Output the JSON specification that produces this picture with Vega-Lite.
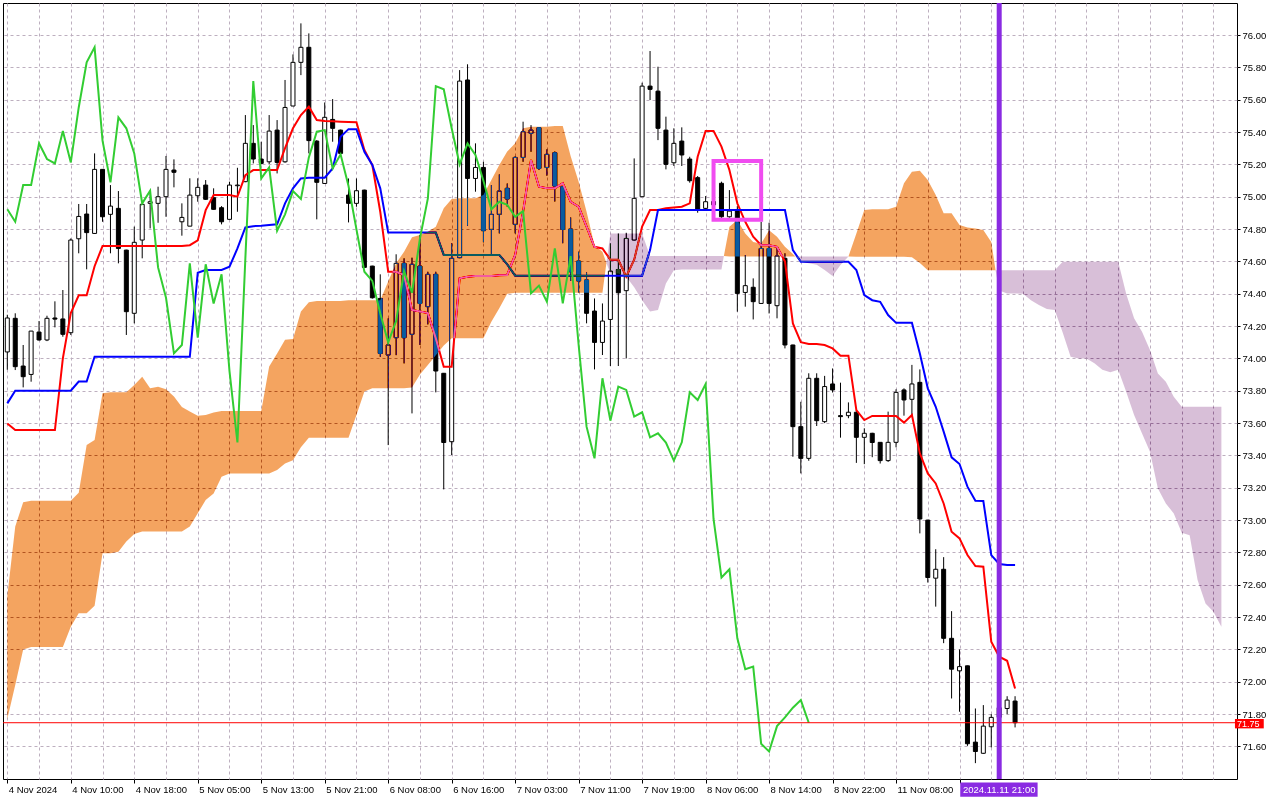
{
"$schema": "https://vega.github.io/schema/vega-lite/v6.json",
"width": 1234, "height": 776,
"autosize": {"type": "none"},
"padding": {"left": 3, "top": 3, "right": 43, "bottom": 21},
"background": "white",
"config": {
  "font": "Liberation Sans",
  "view": {"stroke": "black", "strokeWidth": 1},
  "axis": {"labelFont": "Liberation Sans", "labelFontSize": 9.5, "labelColor": "black", "tickColor": "black", "domain": false, "gridColor": "#BDAFBF", "gridDash": [3,3], "gridWidth": 1}
},
"resolve": {"axis": {"x": "independent", "y": "independent"}},
"datasets": {
"bars": [
{"i":0,"o":74.04,"h":74.27,"l":73.93,"c":74.25,"tk":73.598,"kj":73.722,"ch":74.922},
{"i":1,"o":74.248,"h":74.279,"l":73.928,"c":73.949,"tk":73.557,"kj":73.80,"ch":74.845},
{"i":2,"o":73.953,"h":74.083,"l":73.821,"c":73.887,"tk":73.557,"kj":73.80,"ch":75.072},
{"i":3,"o":73.901,"h":74.17,"l":73.856,"c":74.169,"tk":73.557,"kj":73.80,"ch":75.072},
{"i":4,"o":74.163,"h":74.231,"l":74.11,"c":74.114,"tk":73.557,"kj":73.80,"ch":75.33},
{"i":5,"o":74.114,"h":74.264,"l":74.107,"c":74.248,"tk":73.557,"kj":73.80,"ch":75.233},
{"i":6,"o":74.25,"h":74.353,"l":74.192,"c":74.243,"tk":73.557,"kj":73.80,"ch":75.206},
{"i":7,"o":74.244,"h":74.423,"l":74.134,"c":74.149,"tk":74.0,"kj":73.80,"ch":75.406},
{"i":8,"o":74.159,"h":74.742,"l":74.145,"c":74.732,"tk":74.28,"kj":73.80,"ch":75.212},
{"i":9,"o":74.74,"h":74.955,"l":74.65,"c":74.878,"tk":74.39,"kj":73.857,"ch":75.552},
{"i":10,"o":74.893,"h":74.955,"l":74.551,"c":74.778,"tk":74.39,"kj":73.857,"ch":75.831},
{"i":11,"o":74.773,"h":75.268,"l":74.77,"c":75.169,"tk":74.57,"kj":74.01,"ch":75.924},
{"i":12,"o":75.169,"h":75.17,"l":74.845,"c":74.876,"tk":74.695,"kj":74.01,"ch":75.347},
{"i":13,"o":74.891,"h":75.072,"l":74.65,"c":74.942,"tk":74.695,"kj":74.01,"ch":75.089},
{"i":14,"o":74.928,"h":75.035,"l":74.588,"c":74.68,"tk":74.695,"kj":74.01,"ch":75.491},
{"i":15,"o":74.67,"h":74.672,"l":74.145,"c":74.289,"tk":74.695,"kj":74.01,"ch":75.423},
{"i":16,"o":74.279,"h":74.815,"l":74.217,"c":74.718,"tk":74.695,"kj":74.01,"ch":75.268},
{"i":17,"o":74.732,"h":74.955,"l":74.619,"c":74.953,"tk":74.695,"kj":74.01,"ch":74.959},
{"i":18,"o":74.959,"h":75.037,"l":74.804,"c":74.969,"tk":74.695,"kj":74.01,"ch":75.037},
{"i":19,"o":74.959,"h":75.062,"l":74.839,"c":75.0,"tk":74.695,"kj":74.01,"ch":74.563},
{"i":20,"o":75.0,"h":75.252,"l":74.876,"c":75.169,"tk":74.695,"kj":74.01,"ch":74.375},
{"i":21,"o":75.165,"h":75.231,"l":75.058,"c":75.151,"tk":74.695,"kj":74.01,"ch":74.031},
{"i":22,"o":74.845,"h":74.959,"l":74.759,"c":74.872,"tk":74.695,"kj":74.01,"ch":74.083},
{"i":23,"o":74.818,"h":75.114,"l":74.818,"c":75.01,"tk":74.70,"kj":74.01,"ch":74.588},
{"i":24,"o":75.006,"h":75.114,"l":74.969,"c":75.058,"tk":74.73,"kj":74.53,"ch":74.128},
{"i":25,"o":75.072,"h":75.103,"l":74.98,"c":74.984,"tk":74.917,"kj":74.547,"ch":74.582},
{"i":26,"o":74.994,"h":75.052,"l":74.92,"c":74.922,"tk":75.01,"kj":74.547,"ch":74.34},
{"i":27,"o":74.932,"h":74.942,"l":74.829,"c":74.845,"tk":75.01,"kj":74.547,"ch":74.52},
{"i":28,"o":74.86,"h":75.093,"l":74.86,"c":75.072,"tk":75.01,"kj":74.567,"ch":73.922},
{"i":29,"o":75.068,"h":75.179,"l":74.907,"c":75.072,"tk":75.0,"kj":74.68,"ch":73.48},
{"i":30,"o":75.093,"h":75.505,"l":75.09,"c":75.33,"tk":75.134,"kj":74.81,"ch":74.619},
{"i":31,"o":75.33,"h":75.443,"l":75.206,"c":75.233,"tk":75.165,"kj":74.818,"ch":75.715},
{"i":32,"o":75.233,"h":75.34,"l":75.20,"c":75.206,"tk":75.165,"kj":74.82,"ch":75.113},
{"i":33,"o":75.216,"h":75.505,"l":75.202,"c":75.406,"tk":75.165,"kj":74.825,"ch":75.181},
{"i":34,"o":75.412,"h":75.474,"l":75.144,"c":75.212,"tk":75.165,"kj":74.829,"ch":74.79},
{"i":35,"o":75.216,"h":75.722,"l":75.21,"c":75.552,"tk":75.30,"kj":74.959,"ch":74.891},
{"i":36,"o":75.561,"h":75.88,"l":75.56,"c":75.831,"tk":75.423,"kj":75.052,"ch":75.035},
{"i":37,"o":75.831,"h":76.072,"l":75.752,"c":75.924,"tk":75.505,"kj":75.113,"ch":74.986},
{"i":38,"o":75.924,"h":76.01,"l":75.268,"c":75.347,"tk":75.557,"kj":75.118,"ch":75.243},
{"i":39,"o":75.344,"h":75.35,"l":74.86,"c":75.089,"tk":75.474,"kj":75.118,"ch":75.402},
{"i":40,"o":75.082,"h":75.583,"l":75.08,"c":75.491,"tk":75.468,"kj":75.118,"ch":75.412},
{"i":41,"o":75.478,"h":75.604,"l":75.34,"c":75.423,"tk":75.466,"kj":75.175,"ch":75.175},
{"i":42,"o":75.412,"h":75.415,"l":75.26,"c":75.268,"tk":75.464,"kj":75.371,"ch":75.262},
{"i":43,"o":75.01,"h":75.113,"l":74.841,"c":74.959,"tk":75.462,"kj":75.418,"ch":75.066},
{"i":44,"o":74.959,"h":75.113,"l":74.938,"c":75.037,"tk":75.46,"kj":75.418,"ch":74.798},
{"i":45,"o":75.041,"h":75.043,"l":74.56,"c":74.563,"tk":75.289,"kj":75.278,"ch":74.536},
{"i":46,"o":74.571,"h":74.573,"l":74.37,"c":74.375,"tk":75.196,"kj":75.196,"ch":74.479},
{"i":47,"o":74.371,"h":74.52,"l":74.01,"c":74.031,"tk":74.907,"kj":75.052,"ch":74.279},
{"i":48,"o":74.021,"h":74.248,"l":73.464,"c":74.083,"tk":74.536,"kj":74.778,"ch":74.099},
{"i":49,"o":74.128,"h":74.644,"l":74.02,"c":74.588,"tk":74.536,"kj":74.778,"ch":74.231},
{"i":50,"o":74.588,"h":74.619,"l":73.969,"c":74.128,"tk":74.516,"kj":74.778,"ch":74.54},
{"i":51,"o":74.149,"h":74.623,"l":73.66,"c":74.582,"tk":74.30,"kj":74.778,"ch":74.406},
{"i":52,"o":74.571,"h":74.763,"l":74.083,"c":74.34,"tk":74.29,"kj":74.778,"ch":74.742},
{"i":53,"o":74.32,"h":74.536,"l":74.21,"c":74.52,"tk":74.28,"kj":74.778,"ch":74.99},
{"i":54,"o":74.52,"h":74.536,"l":73.79,"c":73.922,"tk":74.124,"kj":74.778,"ch":75.684},
{"i":55,"o":73.908,"h":73.91,"l":73.19,"c":73.48,"tk":73.949,"kj":74.64,"ch":75.664},
{"i":56,"o":73.485,"h":74.712,"l":73.402,"c":74.619,"tk":73.949,"kj":74.64,"ch":75.423},
{"i":57,"o":74.623,"h":75.783,"l":74.62,"c":75.715,"tk":74.495,"kj":74.64,"ch":75.2},
{"i":58,"o":75.722,"h":75.819,"l":74.82,"c":75.113,"tk":74.505,"kj":74.64,"ch":75.33},
{"i":59,"o":75.113,"h":75.33,"l":75.031,"c":75.181,"tk":74.51,"kj":74.64,"ch":75.258},
{"i":60,"o":75.181,"h":75.216,"l":74.718,"c":74.79,"tk":74.51,"kj":74.64,"ch":75.099},
{"i":61,"o":74.798,"h":75.072,"l":74.64,"c":74.891,"tk":74.51,"kj":74.64,"ch":74.922},
{"i":62,"o":74.891,"h":75.138,"l":74.773,"c":75.035,"tk":74.515,"kj":74.64,"ch":74.969},
{"i":63,"o":75.052,"h":75.082,"l":74.938,"c":74.986,"tk":74.516,"kj":74.582,"ch":74.95},
{"i":64,"o":74.829,"h":75.25,"l":74.773,"c":75.243,"tk":74.64,"kj":74.512,"ch":74.876},
{"i":65,"o":75.243,"h":75.464,"l":75.216,"c":75.402,"tk":74.907,"kj":74.512,"ch":74.911},
{"i":66,"o":75.392,"h":75.443,"l":75.278,"c":75.412,"tk":75.227,"kj":74.512,"ch":74.402},
{"i":67,"o":75.427,"h":75.43,"l":75.165,"c":75.175,"tk":75.062,"kj":74.512,"ch":74.45},
{"i":68,"o":75.181,"h":75.293,"l":75.13,"c":75.262,"tk":75.052,"kj":74.512,"ch":74.351},
{"i":69,"o":75.272,"h":75.28,"l":74.97,"c":75.066,"tk":75.052,"kj":74.512,"ch":74.68},
{"i":70,"o":75.062,"h":75.065,"l":74.712,"c":74.798,"tk":75.083,"kj":74.512,"ch":74.34},
{"i":71,"o":74.80,"h":74.872,"l":74.479,"c":74.536,"tk":74.969,"kj":74.512,"ch":74.633},
{"i":72,"o":74.602,"h":74.66,"l":74.408,"c":74.479,"tk":74.938,"kj":74.512,"ch":74.083},
{"i":73,"o":74.485,"h":74.532,"l":74.217,"c":74.279,"tk":74.815,"kj":74.512,"ch":73.578},
{"i":74,"o":74.293,"h":74.371,"l":73.932,"c":74.099,"tk":74.69,"kj":74.512,"ch":73.382},
{"i":75,"o":74.099,"h":74.34,"l":74.021,"c":74.231,"tk":74.68,"kj":74.512,"ch":73.877},
{"i":76,"o":74.241,"h":74.711,"l":73.953,"c":74.54,"tk":74.61,"kj":74.512,"ch":73.615},
{"i":77,"o":74.55,"h":74.773,"l":73.953,"c":74.406,"tk":74.61,"kj":74.512,"ch":73.826},
{"i":78,"o":74.419,"h":74.777,"l":74.0,"c":74.742,"tk":74.505,"kj":74.512,"ch":73.805},
{"i":79,"o":74.732,"h":75.237,"l":74.73,"c":74.99,"tk":74.61,"kj":74.512,"ch":73.64},
{"i":80,"o":75.0,"h":75.705,"l":74.998,"c":75.684,"tk":74.815,"kj":74.512,"ch":73.667},
{"i":81,"o":75.684,"h":75.901,"l":75.598,"c":75.664,"tk":74.918,"kj":74.67,"ch":73.512},
{"i":82,"o":75.653,"h":75.804,"l":75.35,"c":75.423,"tk":74.918,"kj":74.918,"ch":73.537},
{"i":83,"o":75.412,"h":75.495,"l":75.169,"c":75.2,"tk":74.928,"kj":74.918,"ch":73.48},
{"i":84,"o":75.21,"h":75.423,"l":75.19,"c":75.33,"tk":74.933,"kj":74.918,"ch":73.368},
{"i":85,"o":75.344,"h":75.429,"l":75.19,"c":75.258,"tk":74.938,"kj":74.918,"ch":73.481},
{"i":86,"o":75.233,"h":75.247,"l":75.087,"c":75.099,"tk":74.959,"kj":74.918,"ch":73.79},
{"i":87,"o":75.118,"h":75.128,"l":74.901,"c":74.922,"tk":75.247,"kj":74.918,"ch":73.743},
{"i":88,"o":74.928,"h":75.004,"l":74.92,"c":74.969,"tk":75.407,"kj":74.918,"ch":73.842},
{"i":89,"o":74.97,"h":75.0,"l":74.92,"c":74.95,"tk":75.407,"kj":74.918,"ch":73.007},
{"i":90,"o":75.083,"h":75.093,"l":74.87,"c":74.876,"tk":75.31,"kj":74.918,"ch":72.645},
{"i":91,"o":74.876,"h":75.041,"l":74.87,"c":74.911,"tk":75.165,"kj":74.918,"ch":72.696},
{"i":92,"o":74.917,"h":74.942,"l":74.289,"c":74.402,"tk":74.959,"kj":74.918,"ch":72.269},
{"i":93,"o":74.408,"h":74.639,"l":74.32,"c":74.45,"tk":74.845,"kj":74.918,"ch":72.078},
{"i":94,"o":74.44,"h":74.495,"l":74.241,"c":74.351,"tk":74.753,"kj":74.918,"ch":72.094},
{"i":95,"o":74.34,"h":74.845,"l":74.338,"c":74.68,"tk":74.70,"kj":74.918,"ch":71.617},
{"i":96,"o":74.68,"h":74.839,"l":74.278,"c":74.34,"tk":74.70,"kj":74.918,"ch":71.569},
{"i":97,"o":74.326,"h":74.69,"l":74.248,"c":74.633,"tk":74.69,"kj":74.918,"ch":71.726},
{"i":98,"o":74.619,"h":74.65,"l":74.062,"c":74.083,"tk":74.60,"kj":74.918,"ch":71.78},
{"i":99,"o":74.083,"h":74.085,"l":73.392,"c":73.578,"tk":74.216,"kj":74.67,"ch":71.84},
{"i":100,"o":73.578,"h":73.732,"l":73.289,"c":73.382,"tk":74.10,"kj":74.598,"ch":71.887},
{"i":101,"o":73.382,"h":73.908,"l":73.367,"c":73.877,"tk":74.089,"kj":74.598,"ch":71.747},
{"i":102,"o":73.877,"h":73.908,"l":73.582,"c":73.615,"tk":74.089,"kj":74.598},
{"i":103,"o":73.609,"h":73.892,"l":73.6,"c":73.826,"tk":74.083,"kj":74.598},
{"i":104,"o":73.842,"h":73.938,"l":73.789,"c":73.805,"tk":74.062,"kj":74.598},
{"i":105,"o":73.646,"h":73.85,"l":73.51,"c":73.64,"tk":74.017,"kj":74.598},
{"i":106,"o":73.646,"h":73.728,"l":73.63,"c":73.667,"tk":74.017,"kj":74.598},
{"i":107,"o":73.667,"h":73.681,"l":73.354,"c":73.512,"tk":73.68,"kj":74.547},
{"i":108,"o":73.512,"h":73.568,"l":73.346,"c":73.537,"tk":73.619,"kj":74.392},
{"i":109,"o":73.537,"h":73.54,"l":73.389,"c":73.48,"tk":73.644,"kj":74.36},
{"i":110,"o":73.481,"h":73.482,"l":73.35,"c":73.368,"tk":73.644,"kj":74.35},
{"i":111,"o":73.368,"h":73.671,"l":73.36,"c":73.481,"tk":73.644,"kj":74.268},
{"i":112,"o":73.481,"h":73.809,"l":73.45,"c":73.79,"tk":73.644,"kj":74.22},
{"i":113,"o":73.805,"h":73.815,"l":73.646,"c":73.743,"tk":73.603,"kj":74.22},
{"i":114,"o":73.747,"h":73.96,"l":73.65,"c":73.842,"tk":73.65,"kj":74.22},
{"i":115,"o":73.852,"h":73.932,"l":72.918,"c":73.007,"tk":73.413,"kj":74.03},
{"i":116,"o":73.0,"h":73.002,"l":72.614,"c":72.645,"tk":73.289,"kj":73.815},
{"i":117,"o":72.641,"h":72.82,"l":72.465,"c":72.696,"tk":73.227,"kj":73.701},
{"i":118,"o":72.696,"h":72.771,"l":72.239,"c":72.269,"tk":73.103,"kj":73.547},
{"i":119,"o":72.269,"h":72.437,"l":71.897,"c":72.078,"tk":72.928,"kj":73.388},
{"i":120,"o":72.068,"h":72.2,"l":71.815,"c":72.094,"tk":72.887,"kj":73.347},
{"i":121,"o":72.099,"h":72.1,"l":71.604,"c":71.617,"tk":72.784,"kj":73.207},
{"i":122,"o":71.627,"h":71.835,"l":71.497,"c":71.569,"tk":72.716,"kj":73.12},
{"i":123,"o":71.558,"h":71.856,"l":71.555,"c":71.726,"tk":72.712,"kj":73.118},
{"i":124,"o":71.722,"h":71.80,"l":71.594,"c":71.78,"tk":72.248,"kj":72.784},
{"i":125,"o":71.78,"h":71.86,"l":71.75,"c":71.84,"tk":72.155,"kj":72.729},
{"i":126,"o":71.835,"h":71.911,"l":71.80,"c":71.887,"tk":72.13,"kj":72.722},
{"i":127,"o":71.881,"h":71.911,"l":71.718,"c":71.747,"tk":71.959,"kj":72.722}
],
"cloud": [
{"i":0,"a":72.53,"b":71.77,"kumo":"bull","seg":1},
{"i":1,"a":72.96,"b":71.98,"kumo":"bull","seg":1},
{"i":2,"a":73.11,"b":72.2,"kumo":"bull","seg":1},
{"i":3,"a":73.12,"b":72.215,"kumo":"bull","seg":1},
{"i":4,"a":73.12,"b":72.215,"kumo":"bull","seg":1},
{"i":5,"a":73.12,"b":72.215,"kumo":"bull","seg":1},
{"i":6,"a":73.12,"b":72.215,"kumo":"bull","seg":1},
{"i":7,"a":73.12,"b":72.215,"kumo":"bull","seg":1},
{"i":8,"a":73.12,"b":72.34,"kumo":"bull","seg":1},
{"i":9,"a":73.17,"b":72.424,"kumo":"bull","seg":1},
{"i":10,"a":73.465,"b":72.424,"kumo":"bull","seg":1},
{"i":11,"a":73.496,"b":72.47,"kumo":"bull","seg":1},
{"i":12,"a":73.784,"b":72.795,"kumo":"bull","seg":1},
{"i":13,"a":73.79,"b":72.795,"kumo":"bull","seg":1},
{"i":14,"a":73.79,"b":72.805,"kumo":"bull","seg":1},
{"i":15,"a":73.79,"b":72.867,"kumo":"bull","seg":1},
{"i":16,"a":73.835,"b":72.914,"kumo":"bull","seg":1},
{"i":17,"a":73.887,"b":72.929,"kumo":"bull","seg":1},
{"i":18,"a":73.815,"b":72.929,"kumo":"bull","seg":1},
{"i":19,"a":73.825,"b":72.929,"kumo":"bull","seg":1},
{"i":20,"a":73.81,"b":72.929,"kumo":"bull","seg":1},
{"i":21,"a":73.764,"b":72.929,"kumo":"bull","seg":1},
{"i":22,"a":73.70,"b":72.929,"kumo":"bull","seg":1},
{"i":23,"a":73.671,"b":72.96,"kumo":"bull","seg":1},
{"i":24,"a":73.646,"b":73.042,"kumo":"bull","seg":1},
{"i":25,"a":73.65,"b":73.124,"kumo":"bull","seg":1},
{"i":26,"a":73.665,"b":73.165,"kumo":"bull","seg":1},
{"i":27,"a":73.675,"b":73.268,"kumo":"bull","seg":1},
{"i":28,"a":73.675,"b":73.289,"kumo":"bull","seg":1},
{"i":29,"a":73.675,"b":73.289,"kumo":"bull","seg":1},
{"i":30,"a":73.675,"b":73.289,"kumo":"bull","seg":1},
{"i":31,"a":73.675,"b":73.289,"kumo":"bull","seg":1},
{"i":32,"a":73.675,"b":73.289,"kumo":"bull","seg":1},
{"i":33,"a":73.95,"b":73.289,"kumo":"bull","seg":1},
{"i":34,"a":74.03,"b":73.31,"kumo":"bull","seg":1},
{"i":35,"a":74.115,"b":73.35,"kumo":"bull","seg":1},
{"i":36,"a":74.12,"b":73.37,"kumo":"bull","seg":1},
{"i":37,"a":74.29,"b":73.45,"kumo":"bull","seg":1},
{"i":38,"a":74.347,"b":73.51,"kumo":"bull","seg":1},
{"i":39,"a":74.355,"b":73.51,"kumo":"bull","seg":1},
{"i":40,"a":74.355,"b":73.51,"kumo":"bull","seg":1},
{"i":41,"a":74.355,"b":73.51,"kumo":"bull","seg":1},
{"i":42,"a":74.355,"b":73.51,"kumo":"bull","seg":1},
{"i":43,"a":74.36,"b":73.51,"kumo":"bull","seg":1},
{"i":44,"a":74.36,"b":73.65,"kumo":"bull","seg":1},
{"i":45,"a":74.36,"b":73.795,"kumo":"bull","seg":1},
{"i":46,"a":74.36,"b":73.815,"kumo":"bull","seg":1},
{"i":47,"a":74.36,"b":73.815,"kumo":"bull","seg":1},
{"i":48,"a":74.475,"b":73.815,"kumo":"bull","seg":1},
{"i":49,"a":74.588,"b":73.815,"kumo":"bull","seg":1},
{"i":50,"a":74.66,"b":73.815,"kumo":"bull","seg":1},
{"i":51,"a":74.75,"b":73.82,"kumo":"bull","seg":1},
{"i":52,"a":74.763,"b":73.90,"kumo":"bull","seg":1},
{"i":53,"a":74.784,"b":73.96,"kumo":"bull","seg":1},
{"i":54,"a":74.815,"b":74.02,"kumo":"bull","seg":1},
{"i":55,"a":74.928,"b":74.08,"kumo":"bull","seg":1},
{"i":56,"a":74.986,"b":74.124,"kumo":"bull","seg":1},
{"i":57,"a":74.99,"b":74.124,"kumo":"bull","seg":1},
{"i":58,"a":74.99,"b":74.124,"kumo":"bull","seg":1},
{"i":59,"a":74.99,"b":74.124,"kumo":"bull","seg":1},
{"i":60,"a":75.01,"b":74.124,"kumo":"bull","seg":1},
{"i":61,"a":75.103,"b":74.227,"kumo":"bull","seg":1},
{"i":62,"a":75.196,"b":74.31,"kumo":"bull","seg":1},
{"i":63,"a":75.279,"b":74.40,"kumo":"bull","seg":1},
{"i":64,"a":75.33,"b":74.406,"kumo":"bull","seg":1},
{"i":65,"a":75.423,"b":74.406,"kumo":"bull","seg":1},
{"i":66,"a":75.433,"b":74.406,"kumo":"bull","seg":1},
{"i":67,"a":75.433,"b":74.406,"kumo":"bull","seg":1},
{"i":68,"a":75.433,"b":74.406,"kumo":"bull","seg":1},
{"i":69,"a":75.437,"b":74.406,"kumo":"bull","seg":1},
{"i":70,"a":75.437,"b":74.406,"kumo":"bull","seg":1},
{"i":71,"a":75.25,"b":74.406,"kumo":"bull","seg":1},
{"i":72,"a":75.093,"b":74.406,"kumo":"bull","seg":1},
{"i":73,"a":74.907,"b":74.406,"kumo":"bull","seg":1},
{"i":74,"a":74.70,"b":74.406,"kumo":"bull","seg":1},
{"i":75,"a":74.66,"b":74.406,"kumo":"bull","seg":1},
{"i":75.5,"a":74.59,"b":74.59,"kumo":"bull","seg":1},
{"i":75.5,"a":74.59,"b":74.59,"kumo":"bear","seg":2},
{"i":76,"a":74.525,"b":74.773,"kumo":"bear","seg":2},
{"i":77,"a":74.525,"b":74.773,"kumo":"bear","seg":2},
{"i":78,"a":74.505,"b":74.773,"kumo":"bear","seg":2},
{"i":79,"a":74.44,"b":74.773,"kumo":"bear","seg":2},
{"i":80,"a":74.36,"b":74.773,"kumo":"bear","seg":2},
{"i":81,"a":74.29,"b":74.633,"kumo":"bear","seg":2},
{"i":82,"a":74.30,"b":74.633,"kumo":"bear","seg":2},
{"i":83,"a":74.464,"b":74.633,"kumo":"bear","seg":2},
{"i":84,"a":74.546,"b":74.633,"kumo":"bear","seg":2},
{"i":85,"a":74.55,"b":74.633,"kumo":"bear","seg":2},
{"i":86,"a":74.55,"b":74.633,"kumo":"bear","seg":2},
{"i":87,"a":74.55,"b":74.633,"kumo":"bear","seg":2},
{"i":88,"a":74.55,"b":74.633,"kumo":"bear","seg":2},
{"i":89,"a":74.55,"b":74.633,"kumo":"bear","seg":2},
{"i":90,"a":74.55,"b":74.633,"kumo":"bear","seg":2},
{"i":90.3,"a":74.633,"b":74.633,"kumo":"bear","seg":2},
{"i":90.3,"a":74.633,"b":74.633,"kumo":"bull","seg":3},
{"i":91,"a":74.815,"b":74.63,"kumo":"bull","seg":3},
{"i":92,"a":74.856,"b":74.63,"kumo":"bull","seg":3},
{"i":93,"a":74.773,"b":74.63,"kumo":"bull","seg":3},
{"i":94,"a":74.72,"b":74.63,"kumo":"bull","seg":3},
{"i":95,"a":74.71,"b":74.63,"kumo":"bull","seg":3},
{"i":96,"a":74.793,"b":74.63,"kumo":"bull","seg":3},
{"i":97,"a":74.753,"b":74.63,"kumo":"bull","seg":3},
{"i":98,"a":74.69,"b":74.63,"kumo":"bull","seg":3},
{"i":99,"a":74.645,"b":74.63,"kumo":"bull","seg":3},
{"i":99.3,"a":74.63,"b":74.63,"kumo":"bull","seg":3},
{"i":99.3,"a":74.63,"b":74.63,"kumo":"bear","seg":4},
{"i":100,"a":74.598,"b":74.63,"kumo":"bear","seg":4},
{"i":101,"a":74.588,"b":74.63,"kumo":"bear","seg":4},
{"i":102,"a":74.58,"b":74.63,"kumo":"bear","seg":4},
{"i":103,"a":74.547,"b":74.63,"kumo":"bear","seg":4},
{"i":104,"a":74.51,"b":74.63,"kumo":"bear","seg":4},
{"i":105,"a":74.578,"b":74.63,"kumo":"bear","seg":4},
{"i":106,"a":74.63,"b":74.63,"kumo":"bear","seg":4},
{"i":106,"a":74.63,"b":74.63,"kumo":"bull","seg":5},
{"i":107,"a":74.773,"b":74.629,"kumo":"bull","seg":5},
{"i":108,"a":74.918,"b":74.629,"kumo":"bull","seg":5},
{"i":109,"a":74.922,"b":74.629,"kumo":"bull","seg":5},
{"i":110,"a":74.922,"b":74.629,"kumo":"bull","seg":5},
{"i":111,"a":74.922,"b":74.629,"kumo":"bull","seg":5},
{"i":112,"a":74.938,"b":74.629,"kumo":"bull","seg":5},
{"i":113,"a":75.083,"b":74.629,"kumo":"bull","seg":5},
{"i":114,"a":75.155,"b":74.625,"kumo":"bull","seg":5},
{"i":115,"a":75.161,"b":74.59,"kumo":"bull","seg":5},
{"i":116,"a":75.103,"b":74.546,"kumo":"bull","seg":5},
{"i":117,"a":75.01,"b":74.546,"kumo":"bull","seg":5},
{"i":118,"a":74.897,"b":74.546,"kumo":"bull","seg":5},
{"i":119,"a":74.897,"b":74.546,"kumo":"bull","seg":5},
{"i":120,"a":74.825,"b":74.546,"kumo":"bull","seg":5},
{"i":121,"a":74.81,"b":74.546,"kumo":"bull","seg":5},
{"i":122,"a":74.804,"b":74.546,"kumo":"bull","seg":5},
{"i":123,"a":74.794,"b":74.546,"kumo":"bull","seg":5},
{"i":124,"a":74.72,"b":74.546,"kumo":"bull","seg":5},
{"i":124.54,"a":74.546,"b":74.546,"kumo":"bull","seg":5},
{"i":124.54,"a":74.546,"b":74.546,"kumo":"bear","seg":6},
{"i":125,"a":74.42,"b":74.546,"kumo":"bear","seg":6},
{"i":126,"a":74.402,"b":74.546,"kumo":"bear","seg":6},
{"i":127,"a":74.402,"b":74.546,"kumo":"bear","seg":6},
{"i":128,"a":74.40,"b":74.546,"kumo":"bear","seg":6},
{"i":129,"a":74.36,"b":74.546,"kumo":"bear","seg":6},
{"i":130,"a":74.33,"b":74.546,"kumo":"bear","seg":6},
{"i":131,"a":74.305,"b":74.546,"kumo":"bear","seg":6},
{"i":132,"a":74.30,"b":74.546,"kumo":"bear","seg":6},
{"i":133,"a":74.16,"b":74.598,"kumo":"bear","seg":6},
{"i":134,"a":74.01,"b":74.598,"kumo":"bear","seg":6},
{"i":135,"a":74.0,"b":74.598,"kumo":"bear","seg":6},
{"i":136,"a":74.0,"b":74.598,"kumo":"bear","seg":6},
{"i":137,"a":73.97,"b":74.598,"kumo":"bear","seg":6},
{"i":138,"a":73.93,"b":74.598,"kumo":"bear","seg":6},
{"i":139,"a":73.915,"b":74.598,"kumo":"bear","seg":6},
{"i":140,"a":73.93,"b":74.598,"kumo":"bear","seg":6},
{"i":141,"a":73.794,"b":74.40,"kumo":"bear","seg":6},
{"i":142,"a":73.65,"b":74.248,"kumo":"bear","seg":6},
{"i":143,"a":73.536,"b":74.165,"kumo":"bear","seg":6},
{"i":144,"a":73.423,"b":74.052,"kumo":"bear","seg":6},
{"i":145,"a":73.196,"b":73.907,"kumo":"bear","seg":6},
{"i":146,"a":73.103,"b":73.856,"kumo":"bear","seg":6},
{"i":147,"a":73.041,"b":73.763,"kumo":"bear","seg":6},
{"i":148,"a":72.922,"b":73.701,"kumo":"bear","seg":6},
{"i":149,"a":72.907,"b":73.701,"kumo":"bear","seg":6},
{"i":150,"a":72.629,"b":73.701,"kumo":"bear","seg":6},
{"i":151,"a":72.485,"b":73.701,"kumo":"bear","seg":6},
{"i":152,"a":72.434,"b":73.701,"kumo":"bear","seg":6},
{"i":153,"a":72.341,"b":73.701,"kumo":"bear","seg":6}
]
},
"layer": [
{
 "data": {"name": "bars"},
 "mark": {"type": "rule", "color": "black", "strokeWidth": 1},
 "encoding": {
  "x": {"field": "i", "type": "quantitative", "scale": {"domain": [0.0875, 154.3375], "nice": false, "zero": false},
   "axis": {"title": null, "orient": "bottom", "values": [0,4,8,12,16,20,24,28,32,36,40,44,48,52,56,60,64,68,72,76,80,84,88,92,96,100,104,108,112,116,120,124,128,132,136,140,144,148,152],
    "grid": true, "ticks": false, "labels": false, "domain": false}},
  "y": {"field": "l", "type": "quantitative", "scale": {"domain": [71.399, 76.198], "nice": false, "zero": false},
   "axis": {"title": null, "orient": "right", "values": [71.6,71.8,72.0,72.2,72.4,72.6,72.8,73.0,73.2,73.4,73.6,73.8,74.0,74.2,74.4,74.6,74.8,75.0,75.2,75.4,75.6,75.8,76.0], "format": ".2f", "tickSize": 3, "labelPadding": 2, "grid": true, "labelOverlap": false, "domain": false}},
  "y2": {"field": "h"}
 }
},
{
 "data": {"name": "bars"},
 "mark": {"type": "bar", "width": 4, "stroke": "black", "strokeWidth": 1},
 "encoding": {
  "x": {"field": "i", "type": "quantitative",
   "axis": {"title": null, "orient": "bottom", "values": [0,8,16,24,32,40,48,56,64,72,80,88,96,104,112,120], "grid": false, "domain": false,
    "labelAlign": "left", "labelBaseline": "top", "labelOffset": 1, "labelPadding": 1, "tickSize": 4, "labelOverlap": false, "labelFlush": false,
    "labelExpr": "datum.value <= 112 ? ['4 Nov 2024','4 Nov 10:00','4 Nov 18:00','5 Nov 05:00','5 Nov 13:00','5 Nov 21:00','6 Nov 08:00','6 Nov 16:00','7 Nov 03:00','7 Nov 11:00','7 Nov 19:00','8 Nov 06:00','8 Nov 14:00','8 Nov 22:00','11 Nov 08:00'][round(datum.value / 8)] : ''"}},
  "y": {"field": "o", "type": "quantitative", "axis": null},
  "y2": {"field": "c"},
  "fill": {"condition": {"test": "datum.c >= datum.o", "value": "white"}, "value": "black"}
 }
},
{
 "data": {"name": "bars"},
 "mark": {"type": "line", "color": "#FF0000", "strokeWidth": 2},
 "encoding": {
  "x": {"field": "i", "type": "quantitative", "axis": null},
  "y": {"field": "tk", "type": "quantitative", "axis": null}
 }
},
{
 "data": {"name": "bars"},
 "mark": {"type": "line", "color": "#0000FF", "strokeWidth": 2},
 "encoding": {
  "x": {"field": "i", "type": "quantitative", "axis": null},
  "y": {"field": "kj", "type": "quantitative", "axis": null}
 }
},
{
 "data": {"name": "cloud"},
 "mark": {"type": "area", "blend": "difference", "opacity": 1, "line": false},
 "encoding": {
  "x": {"field": "i", "type": "quantitative", "axis": null},
  "y": {"field": "a", "type": "quantitative", "axis": null, "stack": null},
  "y2": {"field": "b"},
  "color": {"field": "kumo", "type": "nominal", "scale": {"domain": ["bull","bear"], "range": ["#0B5B9F","#274027"]}, "legend": null},
  "detail": {"field": "seg", "type": "nominal"}
 }
},
{
 "data": {"name": "bars"},
 "transform": [{"filter": "isValid(datum.ch)"}],
 "mark": {"type": "line", "color": "#32CD32", "strokeWidth": 2},
 "encoding": {
  "x": {"field": "i", "type": "quantitative", "axis": null},
  "y": {"field": "ch", "type": "quantitative", "axis": null}
 }
},
{
 "data": {"values": [{"price": 71.747, "label": "71.75"}]},
 "mark": {"type": "rule", "color": "#FF0000", "strokeWidth": 1},
 "encoding": {"y": {"field": "price", "type": "quantitative", "axis": null}}
},
{
 "data": {"values": [{"note": "highlight"}]},
 "mark": {"type": "rect", "fill": null, "fillOpacity": 0, "stroke": "#F04CF0", "strokeWidth": 4},
 "encoding": {
  "x": {"datum": 89, "type": "quantitative", "axis": null},
  "x2": {"datum": 95},
  "y": {"datum": 75.221, "type": "quantitative", "axis": null},
  "y2": {"datum": 74.858}
 }
},
{
 "data": {"values": [{"note": "cursor"}]},
 "mark": {"type": "rule", "color": "#8A2BE2", "strokeWidth": 5},
 "encoding": {"x": {"datum": 125, "type": "quantitative", "axis": null}}
},
{
 "data": {"values": [{"label": "71.75"}]},
 "mark": {"type": "rect", "fill": "#FF0000"},
 "encoding": {
  "x": {"datum": 154.71, "type": "quantitative", "axis": null},
  "x2": {"datum": 158.34},
  "y": {"datum": 71.77, "type": "quantitative", "axis": null},
  "y2": {"datum": 71.712}
 }
},
{
 "data": {"values": [{"label": "71.75"}]},
 "mark": {"type": "text", "color": "white", "font": "Liberation Sans", "fontSize": 9, "align": "left", "baseline": "middle"},
 "encoding": {
  "x": {"datum": 154.96, "type": "quantitative", "axis": null},
  "y": {"datum": 71.740, "type": "quantitative", "axis": null},
  "text": {"field": "label"}
 }
},
{
 "data": {"values": [{"label": "2024.11.11 21:00"}]},
 "mark": {"type": "rect", "fill": "#8A2BE2"},
 "encoding": {
  "x": {"datum": 120.09, "type": "quantitative", "axis": null},
  "x2": {"datum": 129.84},
  "y": {"datum": 71.377, "type": "quantitative", "axis": null},
  "y2": {"datum": 71.2895}
 }
},
{
 "data": {"values": [{"label": "2024.11.11 21:00"}]},
 "mark": {"type": "text", "color": "white", "font": "Liberation Sans", "fontSize": 9.5, "align": "center", "baseline": "middle"},
 "encoding": {
  "x": {"datum": 125, "type": "quantitative", "axis": null},
  "y": {"datum": 71.333, "type": "quantitative", "axis": null},
  "text": {"field": "label"}
 }
}
]
}
